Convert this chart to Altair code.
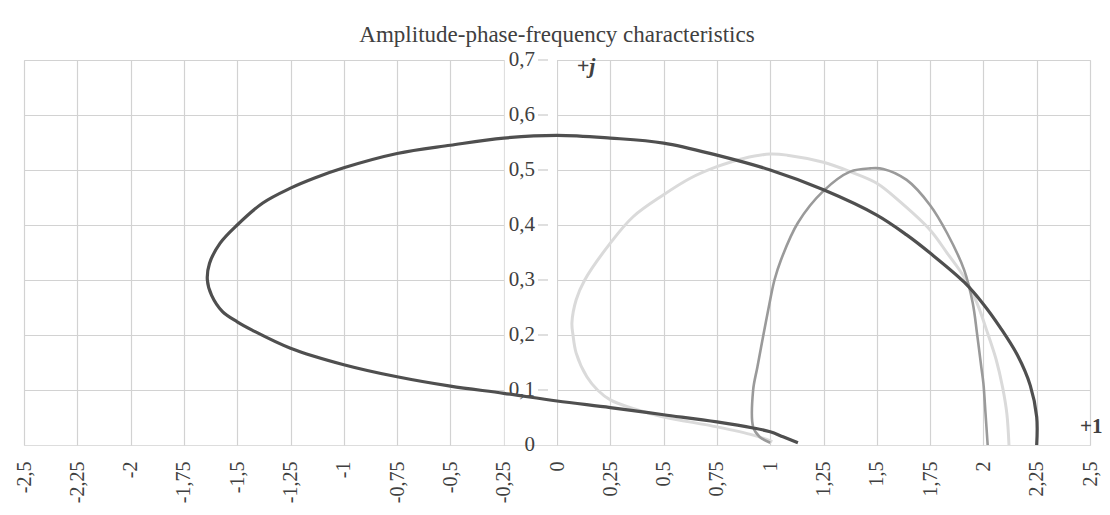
import altair as alt
import pandas as pd

# ---- tick values ----
x_ticks = [-2.5, -2.25, -2.0, -1.75, -1.5, -1.25, -1.0, -0.75, -0.5, -0.25,
           0.0, 0.25, 0.5, 0.75, 1.0, 1.25, 1.5, 1.75, 2.0, 2.25, 2.5]
y_ticks = [0.0, 0.1, 0.2, 0.3, 0.4, 0.5, 0.6, 0.7]

# ---- curve 1 (dark) ----
dark_x = [1.13, 1.06, 1.0, 0.92, 0.75, 0.5, 0.25, 0.0, -0.25, -0.5, -0.75, -1.0,
          -1.25, -1.43, -1.5, -1.57, -1.62, -1.64, -1.63, -1.58, -1.5, -1.38,
          -1.25, -1.14, -1.0, -0.75, -0.5, -0.25, 0.0, 0.25, 0.5, 0.75, 1.0,
          1.25, 1.5, 1.64, 1.75, 1.91, 2.0, 2.08, 2.16, 2.22, 2.25, 2.25]
dark_y = [0.004, 0.015, 0.024, 0.031, 0.042, 0.055, 0.068, 0.08, 0.094, 0.107,
          0.124, 0.146, 0.176, 0.209, 0.224, 0.243, 0.272, 0.30, 0.33, 0.367,
          0.40, 0.44, 0.467, 0.485, 0.504, 0.53, 0.545, 0.558, 0.563, 0.558,
          0.549, 0.527, 0.50, 0.464, 0.418, 0.382, 0.349, 0.296, 0.256, 0.213,
          0.163, 0.108, 0.051, 0.0]

# ---- curve 2 (light) ----
light_x = [1.01, 0.92, 0.75, 0.5, 0.375, 0.25, 0.19, 0.14, 0.09, 0.075, 0.07,
           0.09, 0.13, 0.25, 0.357, 0.5, 0.625, 0.75, 0.875, 1.0, 1.08, 1.25,
           1.375, 1.5, 1.61, 1.75, 1.83, 1.91, 1.97, 2.02, 2.06, 2.09, 2.11, 2.12]
light_y = [0.006, 0.018, 0.033, 0.051, 0.064, 0.082, 0.10, 0.124, 0.167, 0.20,
           0.222, 0.264, 0.30, 0.367, 0.415, 0.455, 0.485, 0.506, 0.521, 0.529,
           0.527, 0.514, 0.497, 0.476, 0.442, 0.391, 0.349, 0.305, 0.258, 0.203,
           0.155, 0.105, 0.057, 0.0]

# ---- curve 3 (medium) ----
medium_x = [1.0, 0.95, 0.92, 0.92, 0.94, 0.97, 1.0, 1.02, 1.05, 1.13, 1.25,
            1.375, 1.47, 1.53, 1.64, 1.75, 1.83, 1.91, 1.95, 1.97, 1.99, 2.0,
            2.01, 2.02]
medium_y = [0.004, 0.015, 0.033, 0.10, 0.142, 0.204, 0.264, 0.30, 0.336, 0.404,
            0.462, 0.497, 0.503, 0.502, 0.482, 0.436, 0.385, 0.318, 0.258, 0.203,
            0.142, 0.112, 0.057, 0.0]

title_text = "Amplitude-phase-frequency characteristics"
ann_j = ["+j"]
ann_j_x = [0.136]
ann_j_y = [0.69]
ann_1 = ["+1"]
ann_1_x = [2.5]
ann_1_y = [0.033]

FONT = "Liberation Serif"
TXT = "#404040"
GRID = "#d2d2d2"


def frame(xs, ys):
    return pd.DataFrame({"x": xs, "y": ys, "idx": list(range(len(xs)))})


x_scale = alt.Scale(domain=[x_ticks[0], x_ticks[-1]], nice=False, zero=False)
y_scale = alt.Scale(domain=[y_ticks[0], y_ticks[-1]], nice=False, zero=False)

x_enc = alt.X(
    "x:Q",
    scale=x_scale,
    axis=alt.Axis(
        values=x_ticks, title=None, grid=True, gridColor=GRID, gridWidth=1.2,
        ticks=False, domain=False, labelAngle=270, labelAlign="right",
        labelBaseline="middle", labelPadding=16, labelFont=FONT,
        labelFontSize=20, labelColor=TXT, labelFlush=False, labelOverlap=False,
        labelExpr="replace('' + datum.value, '.', ',')",
    ),
)
y_enc = alt.Y(
    "y:Q",
    scale=y_scale,
    axis=alt.Axis(
        values=y_ticks, title=None, grid=True, gridColor=GRID, gridWidth=1.2,
        gridOpacity=alt.condition("datum.value == 0", alt.value(0), alt.value(1)),
        ticks=False, labels=False, domain=False,
    ),
)

# white band behind the y-axis labels (between the -0.25 gridline and the 0 axis)
band_df = pd.DataFrame({"x": [x_ticks[9]], "x2": [x_ticks[10]],
                        "y": [y_ticks[0]], "y2": [y_ticks[-1]]})
band = alt.Chart(band_df).mark_rect(color="white", xOffset=1, y2Offset=-1).encode(
    x=alt.X("x:Q", scale=x_scale), x2="x2:Q",
    y=alt.Y("y:Q", scale=y_scale), y2="y2:Q",
)

ylab_df = pd.DataFrame({
    "x": [0.0] * len(y_ticks),
    "y": y_ticks,
    "t": [str(v).replace(".", ",").replace("0,0", "0") if v == 0 else str(v).replace(".", ",") for v in y_ticks],
})
ylab_df.loc[ylab_df["y"] == 0, "t"] = "0"

y_labels = alt.Chart(ylab_df).mark_text(
    font=FONT, fontSize=21, color=TXT, align="right", baseline="middle", dx=-22
).encode(x=alt.X("x:Q", scale=x_scale), y=alt.Y("y:Q", scale=y_scale), text="t:N")

y_tickmarks = alt.Chart(ylab_df[ylab_df["y"] > 0]).mark_tick(
    orient="horizontal", color="#b4b4b4", size=10, thickness=1.2, xOffset=-14
).encode(x=alt.X("x:Q", scale=x_scale), y=alt.Y("y:Q", scale=y_scale))


def curve(xs, ys, color, width):
    return alt.Chart(frame(xs, ys)).mark_line(
        interpolate="catmull-rom", color=color, strokeWidth=width
    ).encode(x=x_enc, y=y_enc, order="idx:Q")


light = curve(light_x, light_y, "#dadada", 3)
medium = curve(medium_x, medium_y, "#9a9a9a", 2.6)
dark = curve(dark_x, dark_y, "#4f4f4f", 3.2)

j_label = alt.Chart(pd.DataFrame({"x": ann_j_x, "y": ann_j_y, "t": ann_j})).mark_text(
    font=FONT, fontSize=22, fontWeight="bold", fontStyle="italic", color=TXT,
    align="center", baseline="middle"
).encode(x="x:Q", y="y:Q", text="t:N")

one_label = alt.Chart(pd.DataFrame({"x": ann_1_x, "y": ann_1_y, "t": ann_1})).mark_text(
    font=FONT, fontSize=21, fontWeight="bold", color=TXT,
    align="left", baseline="middle", dx=-10
).encode(x="x:Q", y="y:Q", text="t:N")

chart = alt.layer(band, y_tickmarks, y_labels, light, medium, dark, j_label, one_label).properties(
    width=1066,
    height=385,
    title=alt.TitleParams(
        text=title_text, font=FONT, fontSize=23, fontWeight="normal",
        color=TXT, anchor="middle", frame="group", offset=2,
    ),
    padding={"left": 16, "top": 52, "right": 12, "bottom": 62},
    autosize=alt.AutoSizeParams(type="none"),
).configure_view(stroke=None).configure(background="white")

chart.save("out.html", embed_options={"renderer": "svg", "actions": False})
